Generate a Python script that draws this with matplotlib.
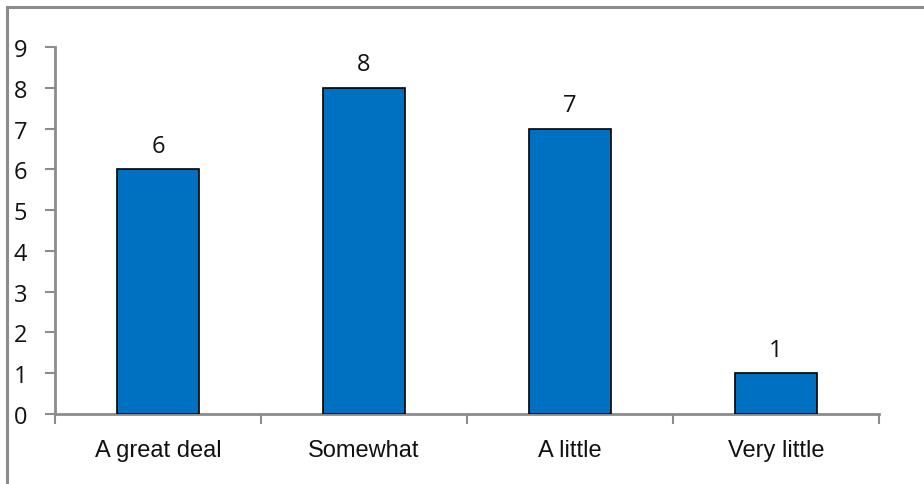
import matplotlib
matplotlib.use("Agg")
import matplotlib.pyplot as plt
from matplotlib.patches import Rectangle

categories = ["A great deal", "Somewhat", "A little", "Very little"]
values = [6, 8, 7, 1]
y_ticks = [0, 1, 2, 3, 4, 5, 6, 7, 8, 9]

W, H = 924, 485
fig = plt.figure(figsize=(W / 100, H / 100), dpi=100)

plt.rcParams["font.family"] = ["Liberation Sans", "DejaVu Sans"]
digits = ["Open Sans", "DejaVu Sans"]

# chart-area frame (runs off the right and bottom edges)
fig.patches.append(Rectangle((7 / W, -0.5), 2, (1 - 8 / H) + 0.5, transform=fig.transFigure,
                             fill=False, edgecolor="#8c8c8c", linewidth=2.2))

left, right, top, bottom = 55, 879, 48, 415
ax = fig.add_axes([left / W, 1 - bottom / H, (right - left) / W, (bottom - top) / H])

x = range(len(categories))
ax.bar(x, values, width=0.40, color="#0070c0", edgecolor="black", linewidth=1.2, zorder=3)

for xi, v in zip(x, values):
    ax.text(xi, v + 0.28, str(v), ha="center", va="bottom", fontsize=17,
            family=digits, color="#111111")

ax.set_xlim(-0.5, len(categories) - 0.5)
ax.set_ylim(0, 9)
ax.set_yticks(y_ticks)
ax.set_yticklabels([str(t) for t in y_ticks], fontsize=17, family=digits, color="#111111")

ax.set_xticks([i - 0.5 for i in range(len(categories) + 1)])
ax.set_xticklabels([])
ax.set_xticks(list(x), minor=True)
ax.set_xticklabels(categories, minor=True, fontsize=17, color="#111111")
ax.tick_params(axis="x", which="minor", length=0, pad=18)
ax.tick_params(axis="x", which="major", length=7, width=1.5, color="#8c8c8c", direction="out")
ax.tick_params(axis="y", length=7, width=1.5, color="#8c8c8c", direction="out", pad=13)

for s in ["top", "right"]:
    ax.spines[s].set_visible(False)
for s in ["left", "bottom"]:
    ax.spines[s].set_color("#8c8c8c")
    ax.spines[s].set_linewidth(2)

fig.savefig("out.png", dpi=100)
